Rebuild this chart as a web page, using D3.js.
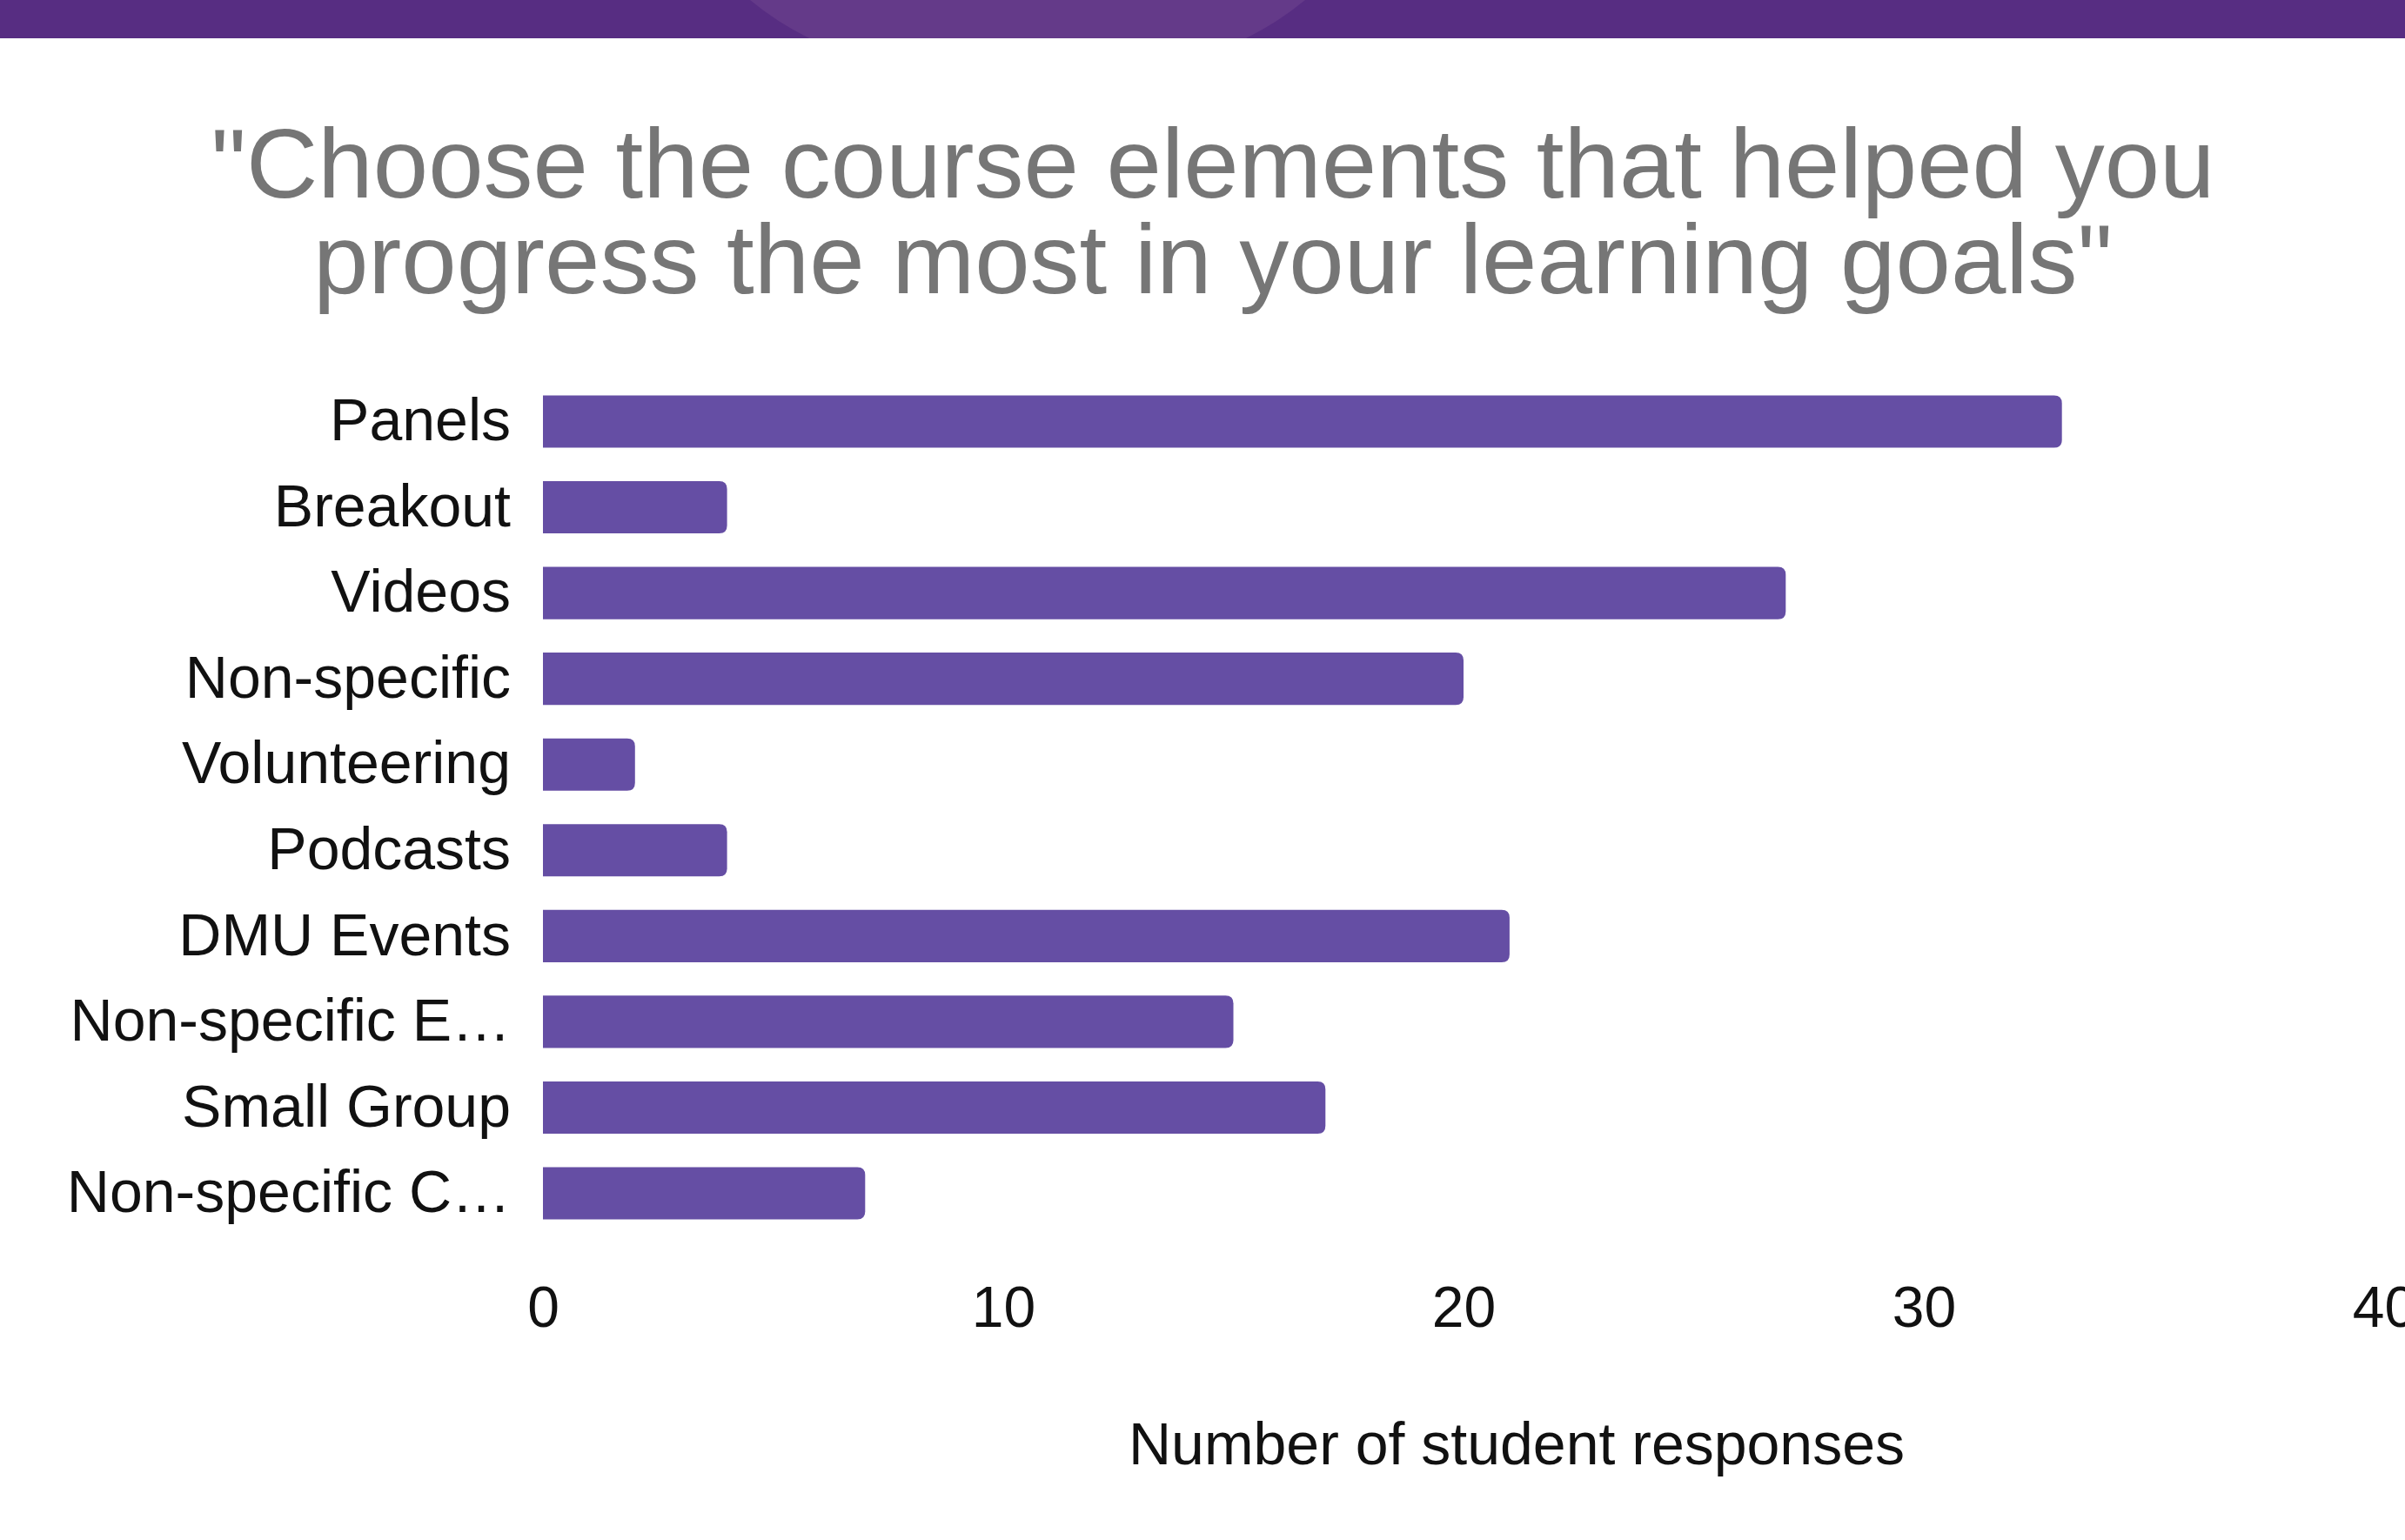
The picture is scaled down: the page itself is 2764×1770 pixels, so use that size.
<!DOCTYPE html>
<html>
<head>
<meta charset="utf-8">
<script src="https://cdn.jsdelivr.net/npm/d3@7"></script>
<style>
  html, body { margin: 0; padding: 0; background: #fff; overflow: hidden; }
  svg { display: block; font-family: "Liberation Sans", Arial, Helvetica, sans-serif; }
</style>
</head>
<body>
<svg id="chart"></svg>
<script>
// Chart data
const categories = ["Panels", "Breakout", "Videos", "Non-specific", "Volunteering",
    "Podcasts", "DMU Events", "Non-specific E\u2026", "Small Group", "Non-specific C\u2026"];
const responses = [33, 4, 27, 20, 2, 4, 21, 15, 17, 7];
const xTicks = [0, 10, 20, 30, 40];
const titleLines = ["\"Choose the course elements that helped you",
    "progress the most in your learning goals\""];
const xTitle = "Number of student responses";

const width = 2764, height = 1770;
const barColor = "#654ea4";

const svg = d3.select("#chart")
    .attr("width", width)
    .attr("height", height)
    .attr("viewBox", [0, 0, width, height]);

// Purple header strip with the lighter shape in it
svg.append("rect")
    .attr("x", 0).attr("y", 0)
    .attr("width", width).attr("height", 44)
    .attr("fill", "#572d82");
svg.append("path")
    .attr("d", "M862,0 L1500,0 Q1470,25 1432,44 L930,44 Q892,25 862,0 Z")
    .attr("fill", "#643a89");

// Title
svg.append("g")
    .selectAll("text")
    .data(titleLines)
    .join("text")
    .attr("x", 1394)
    .attr("y", (d, i) => 227 + i * 110)
    .attr("text-anchor", "middle")
    .attr("font-size", 114)
    .attr("fill", "#767676")
    .text(d => d);

// Scales
const x = d3.scaleLinear().domain([0, 40]).range([624, 2740]);
const y = d3.scaleBand().domain(categories).range([416, 1440]).padding(0.39);

// Bars, rounded on the right end only
const r = 9;
function barPath(v, cat) {
    const x0 = x(0), x1 = x(v), y0 = y(cat), h = y.bandwidth();
    const rr = Math.min(r, (x1 - x0) / 2);
    return `M${x0},${y0} H${x1 - rr} Q${x1},${y0} ${x1},${y0 + rr} V${y0 + h - rr} Q${x1},${y0 + h} ${x1 - rr},${y0 + h} H${x0} Z`;
}

svg.append("g")
    .selectAll("path")
    .data(categories)
    .join("path")
    .attr("d", (d, i) => barPath(responses[i], d))
    .attr("fill", barColor);

// Category labels
svg.append("g")
    .selectAll("text")
    .data(categories)
    .join("text")
    .attr("x", 587)
    .attr("y", d => y(d) + y.bandwidth() / 2)
    .attr("dy", "0.32em")
    .attr("text-anchor", "end")
    .attr("font-size", 68)
    .attr("fill", "#111")
    .text(d => d);

// X axis (labels only, no line)
const xAxis = d3.axisBottom(x)
    .tickValues(xTicks)
    .tickSize(0)
    .tickPadding(0);

const gx = svg.append("g")
    .attr("transform", "translate(0,1478)")
    .call(xAxis);
gx.select(".domain").remove();
gx.selectAll("text")
    .attr("font-size", 66)
    .attr("font-family", "Liberation Sans, Arial, sans-serif")
    .attr("fill", "#111");

// Axis title
svg.append("text")
    .attr("x", 1743)
    .attr("y", 1683)
    .attr("text-anchor", "middle")
    .attr("font-size", 68)
    .attr("fill", "#111")
    .text(xTitle);
</script>
</body>
</html>
